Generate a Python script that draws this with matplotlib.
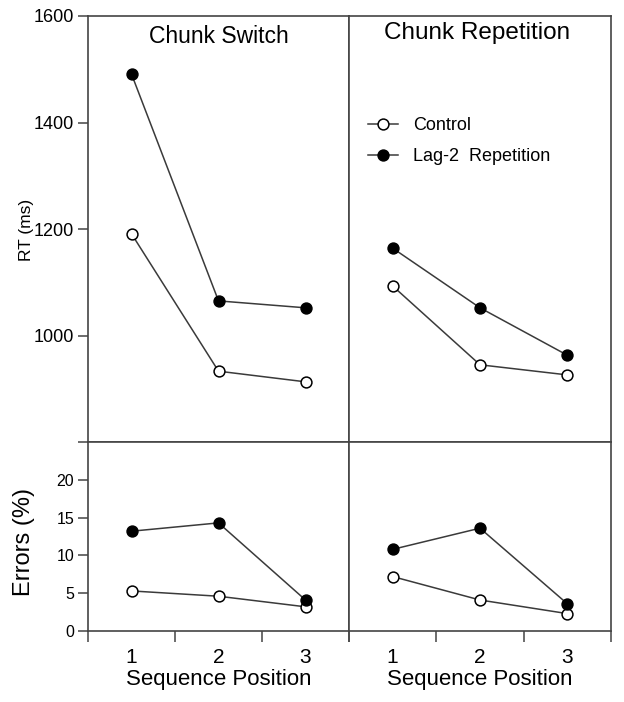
import matplotlib.pyplot as plt

# -----------------------------
# Data
# -----------------------------
positions = [1, 2, 3]

switch_rt_control = [1191, 933, 913]
switch_rt_lag2 = [1491, 1065, 1052]
rep_rt_control = [1093, 945, 926]
rep_rt_lag2 = [1164, 1052, 963]

switch_err_control = [5.3, 4.6, 3.2]
switch_err_lag2 = [13.2, 14.3, 4.1]
rep_err_control = [7.2, 4.1, 2.3]
rep_err_lag2 = [10.8, 13.6, 3.6]

plt.rcParams["font.family"] = ["Liberation Sans", "DejaVu Sans"]

LINE = "#3a3a3a"
SPINE = "#444444"

fig = plt.figure(figsize=(6.24, 7.02), dpi=100)

W, H = 624, 702


def add_ax(x0, y0, x1, y1):
    return fig.add_axes([x0 / W, 1 - y1 / H, (x1 - x0) / W, (y1 - y0) / H])


ax_tl = add_ax(88, 16, 349, 442)
ax_tr = add_ax(349, 16, 611, 442)
ax_bl = add_ax(88, 442, 349, 631)
ax_br = add_ax(349, 442, 611, 631)


def draw(ax, control, lag2):
    ax.plot(positions, control, color=LINE, lw=1.1, marker="o", ms=7.8,
            mfc="white", mec="black", mew=1.1, label="Control", zorder=3)
    ax.plot(positions, lag2, color=LINE, lw=1.1, marker="o", ms=7.8,
            mfc="black", mec="black", mew=1.1, label="Lag-2  Repetition", zorder=3)
    ax.set_xlim(0.5, 3.5)
    for s in ax.spines.values():
        s.set_color(SPINE)
        s.set_linewidth(1.2)


draw(ax_tl, switch_rt_control, switch_rt_lag2)
draw(ax_tr, rep_rt_control, rep_rt_lag2)
draw(ax_bl, switch_err_control, switch_err_lag2)
draw(ax_br, rep_err_control, rep_err_lag2)

# RT panels
for ax in (ax_tl, ax_tr):
    ax.set_ylim(800, 1600)
    ax.set_xticks([])
ax_tl.set_yticks([800, 1000, 1200, 1400, 1600])
ax_tl.set_yticklabels(["", "1000", "1200", "1400", "1600"])
ax_tl.tick_params(axis="y", direction="out", length=7, width=1.1,
                  color=SPINE, labelsize=13, pad=3)
ax_tl.set_ylabel("RT (ms)", fontsize=12.5)
ax_tl.yaxis.set_label_coords(-0.208, 0.498)
ax_tr.set_yticks([])

ax_tl.text(0.5, 0.951, "Chunk Switch", transform=ax_tl.transAxes,
           ha="center", va="center", fontsize=16.5)
ax_tr.text(0.487, 0.96, "Chunk Repetition", transform=ax_tr.transAxes,
           ha="center", va="center", fontsize=17.5)

ax_tr.legend(loc="upper left", bbox_to_anchor=(0.046, 0.78), frameon=False,
             handlelength=1.65, handletextpad=0.83, labelspacing=0.8,
             fontsize=13, borderaxespad=0)

# Error panels
for ax in (ax_bl, ax_br):
    ax.set_ylim(0, 25)
    ax.set_xticks(positions)
    ax.set_xticks([0.5, 1.5, 2.5, 3.5], minor=True)
    ax.tick_params(axis="x", which="major", length=0, labelsize=15, pad=12)
    ax.tick_params(axis="x", which="minor", direction="out", length=8,
                   width=1.1, color=SPINE)
    ax.set_xlabel("Sequence Position", fontsize=16, labelpad=2)
ax_bl.set_yticks([0, 5, 10, 15, 20])
ax_bl.tick_params(axis="y", direction="out", length=7, width=1.1,
                  color=SPINE, labelsize=11.5, pad=3)
ax_bl.set_ylabel("Errors (%)", fontsize=17)
ax_bl.yaxis.set_label_coords(-0.203, 0.471)
ax_br.set_yticks([])

plt.savefig("out.png", dpi=100)
